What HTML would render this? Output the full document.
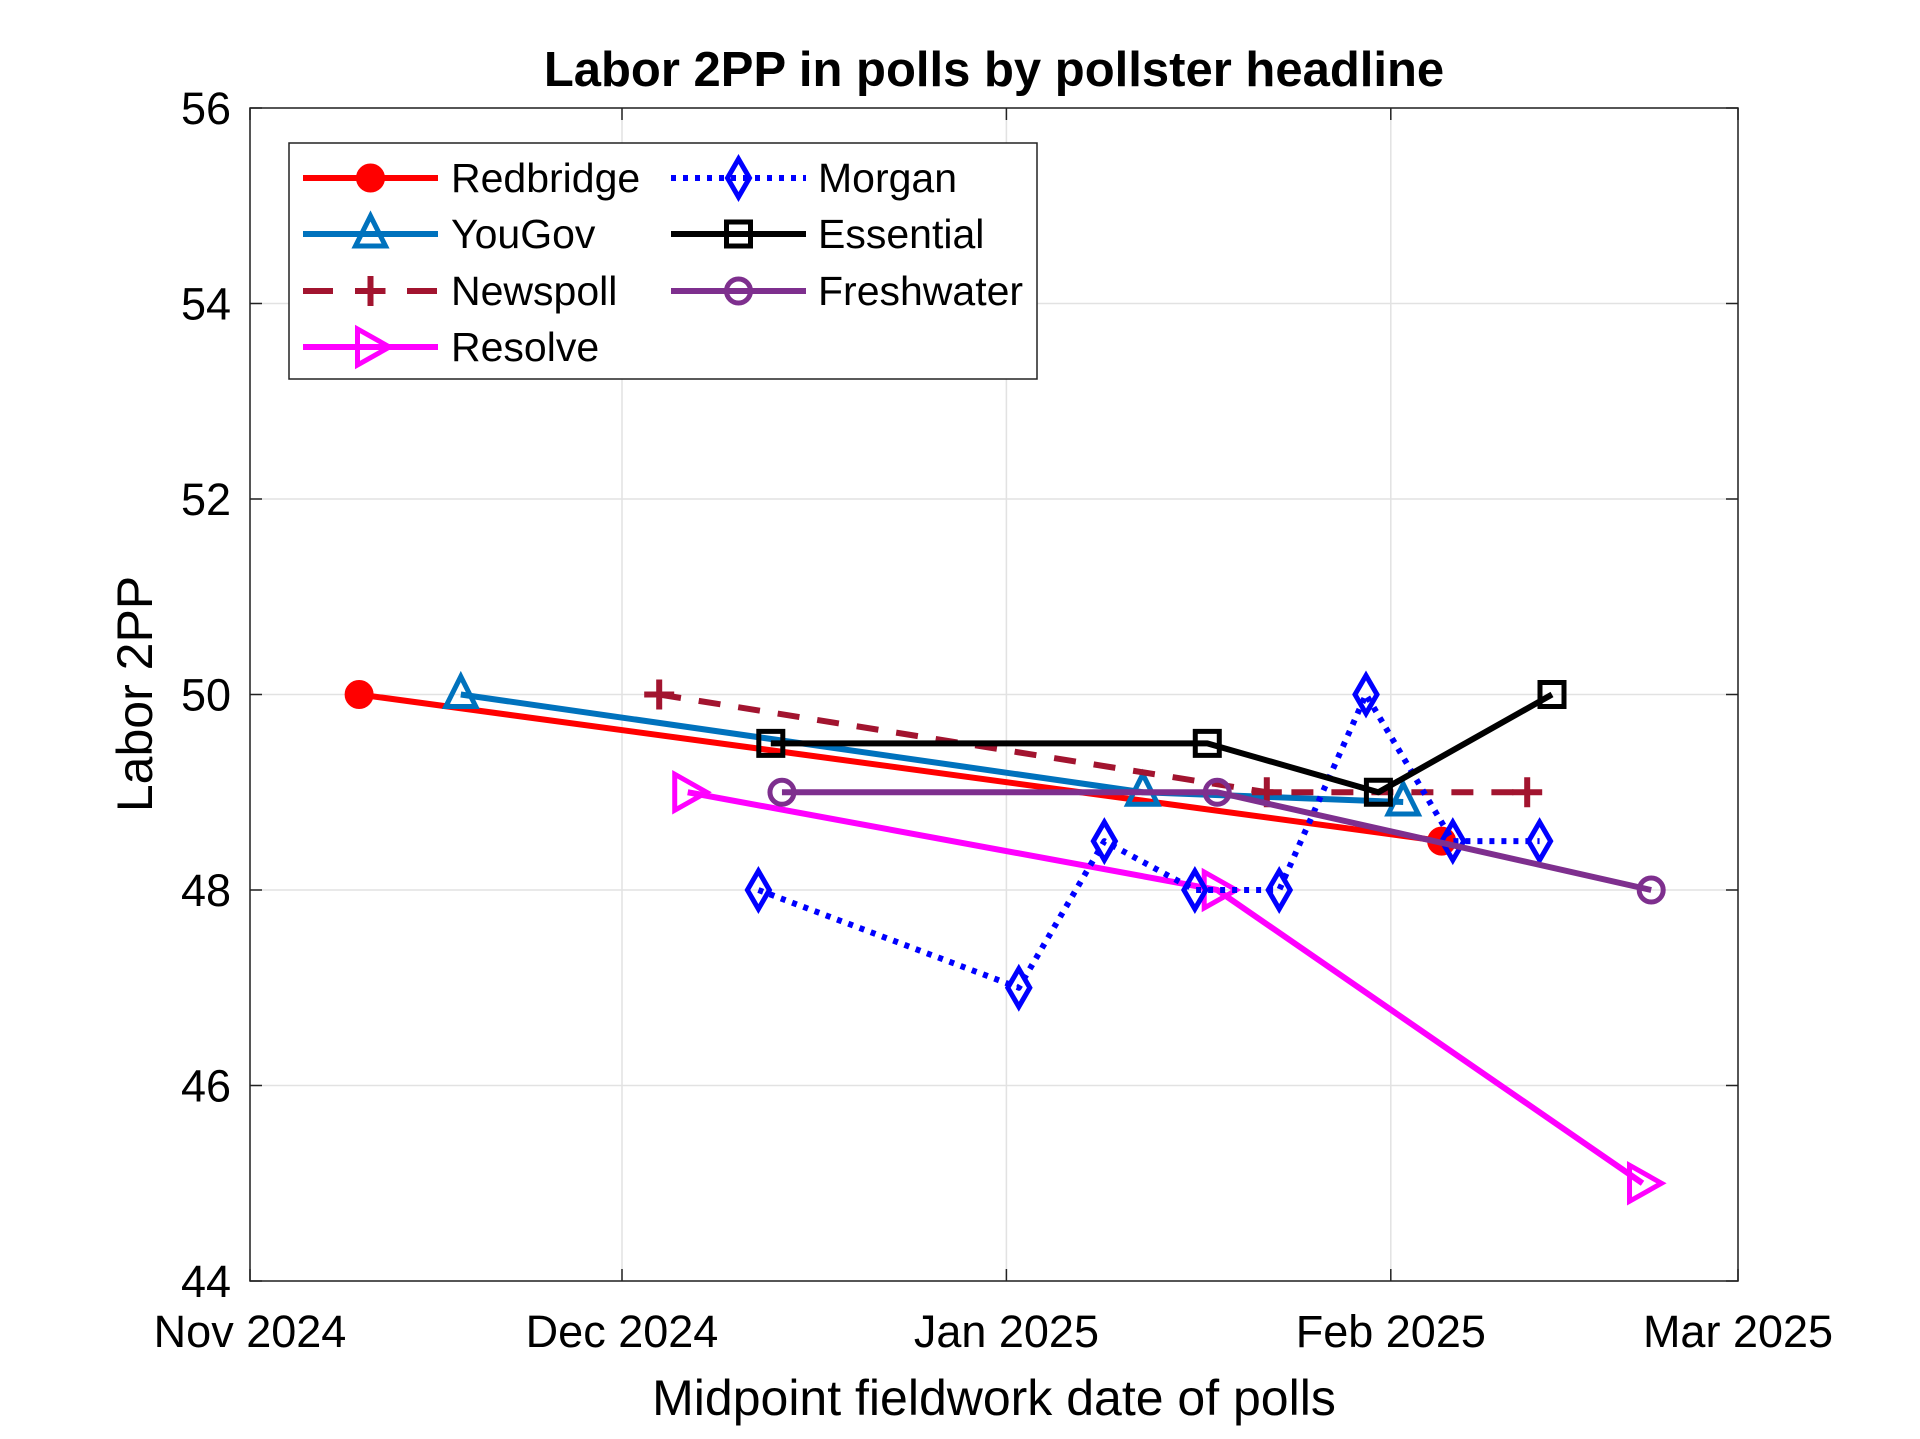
<!DOCTYPE html>
<html><head><meta charset="utf-8"><style>
html,body{margin:0;padding:0;background:#fff;}
svg{display:block;font-family:"Liberation Sans",sans-serif;}
</style></head><body>
<svg id="chart" width="1920" height="1439" viewBox="0 0 1920 1439" xmlns="http://www.w3.org/2000/svg">
<rect width="1920" height="1439" fill="#fff"/>
<text x="994" y="86" text-anchor="middle" font-size="49" font-weight="bold">Labor 2PP in polls by pollster headline</text>
<text x="994" y="1415" text-anchor="middle" font-size="50">Midpoint fieldwork date of polls</text>
<text transform="translate(152,694) rotate(-90)" text-anchor="middle" font-size="50">Labor 2PP</text>
<g id="grid"></g><g id="axes"></g><g id="series"></g><g id="legend"></g>
</svg>
<script>
const xTickDays=[0,30,61,92,120];
const xTickLabels=["Nov 2024","Dec 2024","Jan 2025","Feb 2025","Mar 2025"];
const yTicks=[44,46,48,50,52,54,56];
const seriesNames=["Redbridge","YouGov","Newspoll","Resolve","Morgan","Essential","Freshwater"];
const redbridgeDays=[8.8,96.1];const redbridgeVals=[50,48.5];
const yougovDays=[17,72,93];const yougovVals=[50,49,48.9];
const newspollDays=[33,82,103];const newspollVals=[50,49,49];
const resolveDays=[35.3,78,112.3];const resolveVals=[49,48,45];
const morganDays=[41,62,68.9,76.2,83,90,97,104];const morganVals=[48,47,48.5,48,48,50,48.5,48.5];
const essentialDays=[42,77.2,91,105];const essentialVals=[49.5,49.5,49,50];
const freshwaterDays=[42.9,78,113];const freshwaterVals=[49,49,48];

const L=250,R=1738,T=108,B=1281;
const X=d=>L+(R-L)*d/120;
const Y=v=>B-(B-T)*(v-44)/12;
const NS="http://www.w3.org/2000/svg";
function mk(tag,attrs,parent){const e=document.createElementNS(NS,tag);for(const k in attrs)e.setAttribute(k,attrs[k]);parent.appendChild(e);return e;}
const grid=document.getElementById('grid'),axes=document.getElementById('axes'),ser=document.getElementById('series'),leg=document.getElementById('legend');
xTickDays.forEach((d,i)=>{
 const g=mk('line',{x1:X(d),x2:X(d),y1:T,y2:B,stroke:'#e2e2e2','stroke-width':1.5},grid);
 
 
 const t=mk('line',{x1:X(d),x2:X(d),y1:B,y2:B-12,stroke:'#222','stroke-width':1.5},axes);
 
 
 const t2=mk('line',{x1:X(d),x2:X(d),y1:T,y2:T+12,stroke:'#222','stroke-width':1.5},axes);
 
 
 const lb=mk('text',{x:X(d),y:1347,'text-anchor':'middle','font-size':45},axes);
 lb.textContent=xTickLabels[i];
 
 
});
yTicks.forEach(v=>{
 const g=mk('line',{x1:L,x2:R,y1:Y(v),y2:Y(v),stroke:'#e2e2e2','stroke-width':1.5},grid);
 
 
 const t=mk('line',{x1:L,x2:L+12,y1:Y(v),y2:Y(v),stroke:'#222','stroke-width':1.5},axes);
 
 
 const t2=mk('line',{x1:R,x2:R-12,y1:Y(v),y2:Y(v),stroke:'#222','stroke-width':1.5},axes);
 
 
 const lb=mk('text',{x:231,y:Y(v)+16,'text-anchor':'end','font-size':45},axes);
 lb.textContent=v;
 
 
});
const box=mk('rect',{x:L,y:T,width:R-L,height:B-T,fill:'none',stroke:'#222','stroke-width':1.5},axes);



function marker(type,x,y,color,parent){
 const s=15,sw=5;let e;
 if(type==='circle')e=mk('circle',{cx:x,cy:y,r:12,fill:color==='#7e2f8e'?'none':color,stroke:color,'stroke-width':sw},parent);
 else if(type==='tri')e=mk('polygon',{points:`${x},${y-s-3} ${x-s},${y+s-3} ${x+s},${y+s-3}`,fill:'none',stroke:color,'stroke-width':sw},parent);
 else if(type==='plus')e=mk('path',{d:`M${x-s},${y}H${x+s}M${x},${y-s}V${y+s}`,stroke:color,'stroke-width':sw+1,fill:'none'},parent);
 else if(type==='right')e=mk('polygon',{points:`${x+s+4},${y} ${x-s+2},${y-s-3} ${x-s+2},${y+s+3}`,fill:'none',stroke:color,'stroke-width':sw},parent);
 else if(type==='diamond')e=mk('polygon',{points:`${x},${y-s-4} ${x+s-4},${y} ${x},${y+s+4} ${x-s+4},${y}`,fill:'none',stroke:color,'stroke-width':sw},parent);
 else if(type==='square')e=mk('rect',{x:x-12,y:y-12,width:24,height:24,fill:'none',stroke:color,'stroke-width':sw},parent);
 return e;
}
const defs=[
 {n:"Redbridge",d:redbridgeDays,v:redbridgeVals,c:'#ff0000',m:'circle',dash:''},
 {n:"YouGov",d:yougovDays,v:yougovVals,c:'#0072bd',m:'tri',dash:''},
 {n:"Newspoll",d:newspollDays,v:newspollVals,c:'#a2142f',m:'plus',dash:'22 18'},
 {n:"Resolve",d:resolveDays,v:resolveVals,c:'#ff00ff',m:'right',dash:''},
 {n:"Morgan",d:morganDays,v:morganVals,c:'#0000ff',m:'diamond',dash:'5 7'},
 {n:"Essential",d:essentialDays,v:essentialVals,c:'#000000',m:'square',dash:''},
 {n:"Freshwater",d:freshwaterDays,v:freshwaterVals,c:'#7e2f8e',m:'circle',dash:''}
];
defs.forEach(s=>{
 const g=mk('g',{},ser);
 
 
 const pts=s.d.map((d,i)=>X(d)+','+Y(s.v[i])).join(' ');
 const pl=mk('polyline',{points:pts,fill:'none',stroke:s.c,'stroke-width':6,'stroke-dasharray':s.dash,'stroke-linejoin':'round'},g);
 
 
 s.d.forEach((d,i)=>{
  const m=marker(s.m,X(d),Y(s.v[i]),s.c,g);
  
  
 });
});
const lb=mk('rect',{x:289,y:143,width:748,height:236,fill:'#fff',stroke:'#222','stroke-width':1.5},leg);


const rows=[178,234,291,347];
const cols=[{x1:303,x2:438,tx:451},{x1:671,x2:806,tx:818}];
const layout=[[0,0],[0,1],[0,2],[0,3],[1,0],[1,1],[1,2]];
defs.forEach((s,i)=>{
 const [c,r]=layout[i];const col=cols[c];const y=rows[r];
 const g=mk('g',{},leg);
 
 
 mk('line',{x1:col.x1,x2:col.x2,y1:y,y2:y,stroke:s.c,'stroke-width':6,'stroke-dasharray':s.dash?(s.m==='plus'?'30 22':'5 7'):''},g);
 marker(s.m,(col.x1+col.x2)/2,y,s.c,g);
 const t=mk('text',{x:col.tx,y:y+14,'font-size':41},g);
 t.textContent=s.n;
});
</script>
</body></html>
